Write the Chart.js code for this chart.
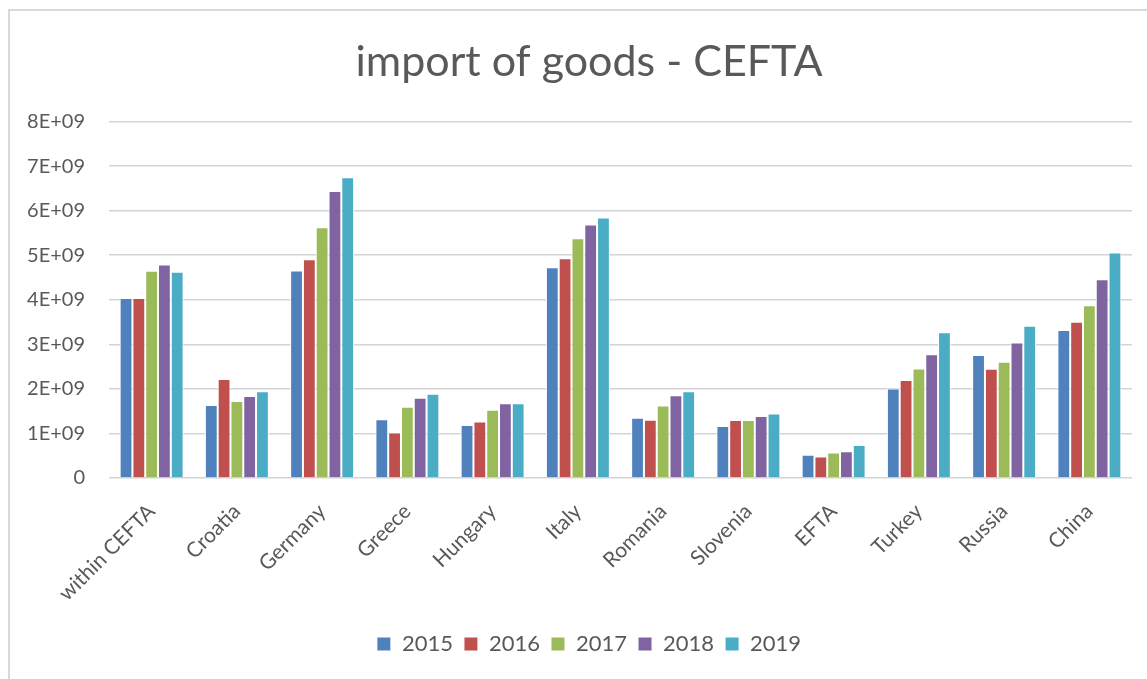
<!DOCTYPE html>
<html>
<head>
<meta charset="utf-8">
<script src="https://cdn.jsdelivr.net/npm/chart.js@4"></script>
<style>
  body { margin: 0; background: #fff; }
  #frame { position: absolute; left: 8px; top: 9px; width: 1200px; height: 720px; border: 2px solid #d9d9d9; }
  #wrap { position: absolute; left: 0; top: 0; width: 1147px; height: 679px; }
</style>
</head>
<body>
<div id="frame"></div>
<div id="wrap"><canvas id="importChart"></canvas></div>
<script>
// partners and yearly import values
var partners = ["within CEFTA", "Croatia", "Germany", "Greece", "Hungary", "Italy", "Romania", "Slovenia", "EFTA", "Turkey", "Russia", "China"];
var years = ["2015", "2016", "2017", "2018", "2019"];
var y2015 = [4.04e9, 1.64e9, 4.66e9, 1.32e9, 1.19e9, 4.73e9, 1.35e9, 1.17e9, 0.52e9, 2.01e9, 2.76e9, 3.32e9];
var y2016 = [4.04e9, 2.22e9, 4.91e9, 1.02e9, 1.27e9, 4.93e9, 1.31e9, 1.30e9, 0.48e9, 2.20e9, 2.45e9, 3.51e9];
var y2017 = [4.65e9, 1.73e9, 5.63e9, 1.60e9, 1.53e9, 5.38e9, 1.63e9, 1.30e9, 0.57e9, 2.46e9, 2.61e9, 3.88e9];
var y2018 = [4.79e9, 1.84e9, 6.44e9, 1.80e9, 1.68e9, 5.69e9, 1.86e9, 1.39e9, 0.60e9, 2.78e9, 3.04e9, 4.46e9];
var y2019 = [4.63e9, 1.95e9, 6.75e9, 1.89e9, 1.68e9, 5.85e9, 1.95e9, 1.45e9, 0.74e9, 3.27e9, 3.42e9, 5.06e9];
var colours = ["#4F81BD", "#C0504D", "#9BBB59", "#8064A2", "#4BACC6"];

var series = [y2015, y2016, y2017, y2018, y2019];
var textColour = "#595959";
var fontName = "Lato, 'Open Sans', sans-serif";

var ctx = document.getElementById("importChart").getContext("2d");
var importChart = new Chart(ctx, {
  type: "bar",
  data: {
    labels: partners,
    datasets: series.map(function (vals, i) {
      return {
        label: years[i],
        data: vals,
        backgroundColor: colours[i],
        borderColor: "#ffffff",
        borderWidth: 1,
        borderSkipped: "start",
        categoryPercentage: 0.75,
        barPercentage: 1.0
      };
    })
  },
  options: {
    responsive: true,
    maintainAspectRatio: false,
    animation: false,
    layout: { padding: { left: 46, right: 15, top: 20, bottom: 14 } },
    plugins: {
      title: {
        display: true,
        text: "import of goods - CEFTA",
        color: textColour,
        font: { family: fontName, size: 43, weight: "normal" },
        padding: { top: 16, bottom: 34 }
      },
      legend: {
        position: "bottom",
        labels: {
          color: textColour,
          font: { family: fontName, size: 22 },
          boxWidth: 14,
          boxHeight: 14,
          padding: 11
        }
      },
      tooltip: { enabled: false }
    },
    scales: {
      x: {
        grid: { display: false },
        border: { display: false },
        ticks: {
          color: textColour,
          font: { family: fontName, size: 21 },
          minRotation: 45,
          maxRotation: 45,
          autoSkip: false,
          padding: 13
        },
        afterFit: function (scale) { scale.height = 144; }
      },
      y: {
        min: 0,
        max: 8e9,
        grid: { color: "#d4d4d4", lineWidth: 1.5, drawTicks: false },
        border: { display: false },
        ticks: {
          stepSize: 1e9,
          color: textColour,
          font: { family: fontName, size: 20 },
          padding: 24,
          callback: function (v) {
            if (v === 0) return "0";
            return (v / 1e9) + "E+09";
          }
        },
        afterFit: function (scale) {
          scale.width = 63;
          // labels reach into the left padding, so don't clip them to the axis box
          scale._computeLabelArea = function () { return null; };
        }
      }
    }
  }
});
</script>
</body>
</html>
